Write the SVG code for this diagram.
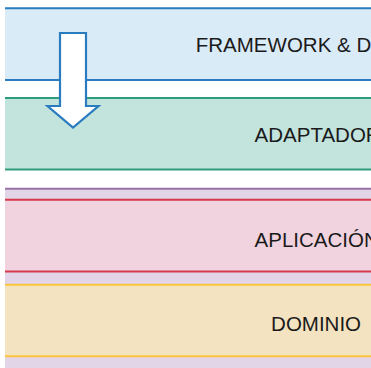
<svg xmlns="http://www.w3.org/2000/svg" width="371" height="368" viewBox="0 0 371 368">
  <style>
    .lbl { font-family: "Liberation Sans", Arial, sans-serif; font-size: 20.5px; fill: #1a1a1a; }
    .ln { stroke-width: 2; fill: none; }
  </style>
  <rect width="371" height="368" fill="#ffffff"/>
  <g id="layer-dominio-outer">
    <rect x="5" y="188.7" width="400" height="185" fill="#e1d5e7"/>
    <line class="ln" x1="5" y1="188.7" x2="371" y2="188.7" stroke="#9673a6"/>
  </g>
  <g id="layer-framework">
    <rect x="5" y="8.3" width="400" height="71.8" fill="#daebf8"/>
    <line class="ln" x1="5" y1="8.3" x2="371" y2="8.3" stroke="#2a7cbf"/>
    <line class="ln" x1="5" y1="80.1" x2="371" y2="80.1" stroke="#2a7cbf"/>
    <text class="lbl" x="195.8" y="52.3">FRAMEWORK &amp; DRIVERS</text>
  </g>
  <g id="layer-adaptadores">
    <rect x="5" y="97.9" width="400" height="71.5" fill="#c2e4dd"/>
    <line class="ln" x1="5" y1="97.9" x2="371" y2="97.9" stroke="#2f9c7e"/>
    <line class="ln" x1="5" y1="169.4" x2="371" y2="169.4" stroke="#2f9c7e"/>
    <text class="lbl" x="254.6" y="141.7">ADAPTADORES</text>
  </g>
  <g id="layer-aplicacion">
    <rect x="5" y="199.8" width="400" height="71.7" fill="#f0d3de"/>
    <line class="ln" x1="5" y1="199.8" x2="371" y2="199.8" stroke="#d63a4c"/>
    <line class="ln" x1="5" y1="271.5" x2="371" y2="271.5" stroke="#d63a4c"/>
    <text class="lbl" x="254.6" y="246.7">APLICACIÓN</text>
  </g>
  <g id="layer-dominio">
    <rect x="5" y="284.7" width="400" height="71.6" fill="#f3e3c0"/>
    <line class="ln" x1="5" y1="284.7" x2="371" y2="284.7" stroke="#fdc53c"/>
    <line class="ln" x1="5" y1="356.3" x2="371" y2="356.3" stroke="#fdc53c"/>
    <text class="lbl" x="271.1" y="331">DOMINIO</text>
  </g>
  <g id="connectors">
    <path d="M60,33 H86 V106 H98.5 L73,127.5 L47.5,106 H60 Z" fill="#ffffff" stroke="#2a7cbf" stroke-width="2.2" stroke-linejoin="miter"/>
  </g>
</svg>
